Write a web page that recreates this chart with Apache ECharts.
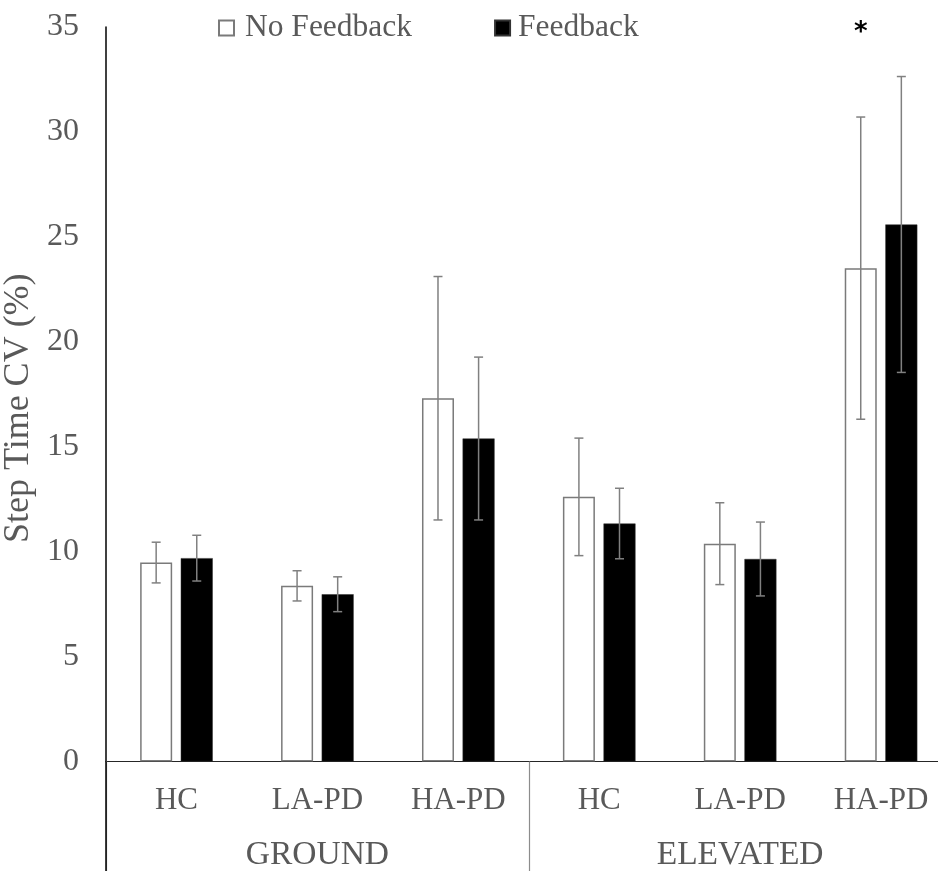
<!DOCTYPE html>
<html>
<head>
<meta charset="utf-8">
<style>
  html, body { margin: 0; padding: 0; background: #ffffff; }
  #chart { width: 938px; height: 871px; }
</style>
<script src="https://cdn.jsdelivr.net/npm/echarts@6/dist/echarts.min.js"></script>
</head>
<body>
<div id="chart"></div>
<script>
// Step time coefficient of variation by group, surface and feedback condition
const categories = ['HC', 'LA-PD', 'HA-PD', 'HC', 'LA-PD', 'HA-PD'];
const surfaces = ['GROUND', 'ELEVATED'];
const noFeedback = [9.48, 8.37, 17.31, 12.61, 10.38, 23.51];
const noFeedbackSD = [0.97, 0.72, 5.8, 2.8, 1.95, 7.2];
const feedback = [9.69, 7.97, 15.39, 11.34, 9.65, 25.59];
const feedbackSD = [1.09, 0.83, 3.88, 1.68, 1.76, 7.05];
const yMin = 0, yMax = 35, yStep = 5;
const significant = [5]; // category index marked with an asterisk

const FONT = '"Liberation Serif", "Times New Roman", serif';
const TEXT = '#595959';
const BAR_W = 32;
const BAR_GAP = 8.6;
const HALF = (BAR_W + BAR_GAP) / 2;
const GRID_LEFT = 106;

function errorSeries(name, values, sds, offset) {
  return {
    name: name + ' SD',
    type: 'custom',
    z: 5,
    silent: true,
    data: values.map((v, i) => [i, v, sds[i]]),
    renderItem: function (params, api) {
      const i = api.value(0), v = api.value(1), sd = api.value(2);
      const hi = api.coord([i, v + sd]);
      const lo = api.coord([i, v - sd]);
      const x = hi[0] + offset;
      const style = { stroke: '#808080', lineWidth: 1.5 };
      return {
        type: 'group',
        children: [
          { type: 'line', shape: { x1: x, y1: hi[1], x2: x, y2: lo[1] }, style: style },
          { type: 'line', shape: { x1: x - 4.5, y1: hi[1], x2: x + 4.5, y2: hi[1] }, style: style },
          { type: 'line', shape: { x1: x - 4.5, y1: lo[1], x2: x + 4.5, y2: lo[1] }, style: style }
        ]
      };
    }
  };
}

const chart = echarts.init(document.getElementById('chart'), null, { renderer: 'canvas' });

chart.setOption({
  animation: false,
  backgroundColor: '#ffffff',
  textStyle: { fontFamily: FONT },
  grid: {
    left: GRID_LEFT, width: 845.5, top: 27, height: 734.5,
    containLabel: false, outerBoundsMode: 'none'
  },
  legend: {
    left: 213,
    top: 7,
    itemWidth: 15,
    itemHeight: 15,
    itemGap: 82,
    icon: 'rect',
    data: [
      { name: 'No Feedback', textStyle: { padding: [0, 0, 0, 6] } },
      { name: 'Feedback', textStyle: { padding: [0, 0, 0, 3] } }
    ],
    textStyle: { fontFamily: FONT, fontSize: 31.5, color: TEXT, lineHeight: 32 }
  },
  xAxis: [
    {
      type: 'category',
      data: categories,
      position: 'bottom',
      axisLine: { show: true, lineStyle: { color: '#262626', width: 1.2 } },
      axisTick: { show: false },
      axisLabel: { fontFamily: FONT, fontSize: 31, color: TEXT, margin: 24, interval: 0 }
    },
    {
      type: 'category',
      data: surfaces,
      position: 'bottom',
      axisLine: { show: false },
      axisTick: { show: true, length: 112, interval: 0, lineStyle: { color: '#8c8c8c', width: 1.2 } },
      axisLabel: { fontFamily: FONT, fontSize: 33.5, color: TEXT, margin: 77, interval: 0 }
    }
  ],
  yAxis: {
    type: 'value',
    min: yMin,
    max: yMax,
    interval: yStep,
    name: 'Step Time CV (%)',
    nameLocation: 'middle',
    nameGap: 64,
    nameTextStyle: { fontFamily: FONT, fontSize: 36, color: TEXT, padding: [0, 28, 0, 0] },
    axisLine: { show: true, lineStyle: { color: '#000000', width: 1.5 } },
    axisTick: { show: false },
    splitLine: { show: false },
    axisLabel: { fontFamily: FONT, fontSize: 32, color: TEXT, margin: 27 }
  },
  series: [
    {
      name: 'No Feedback',
      type: 'bar',
      data: noFeedback,
      barWidth: BAR_W,
      barGap: (BAR_GAP / BAR_W * 100) + '%',
      itemStyle: { color: '#ffffff', borderColor: '#7a7a7a', borderWidth: 1.5 }
    },
    {
      name: 'Feedback',
      type: 'bar',
      data: feedback,
      barWidth: BAR_W,
      itemStyle: { color: '#000000', borderColor: '#333333', borderWidth: 0.5 }
    },
    errorSeries('No Feedback', noFeedback, noFeedbackSD, -HALF),
    errorSeries('Feedback', feedback, feedbackSD, HALF)
  ]
});

// Left edge continues down through the category label rows; asterisk marks
const origin = chart.convertToPixel({ xAxisIndex: 0, yAxisIndex: 0 }, [0, yMin]);
const graphics = [
  {
    type: 'line',
    z: 10,
    shape: { x1: GRID_LEFT, y1: origin[1], x2: GRID_LEFT, y2: 871 },
    style: { stroke: '#000000', lineWidth: 1.5 }
  }
];
significant.forEach(function (idx) {
  const p = chart.convertToPixel({ xAxisIndex: 0, yAxisIndex: 0 }, [idx, yMax]);
  graphics.push({
    type: 'text',
    z: 10,
    x: p[0] - HALF,
    y: p[1] + 6,
    style: {
      text: '*',
      fontFamily: '"DejaVu Sans", sans-serif',
      fontSize: 26,
      fontWeight: 'bold',
      fill: '#000000',
      align: 'center',
      verticalAlign: 'middle'
    }
  });
});
chart.setOption({ graphic: graphics });
</script>
</body>
</html>
